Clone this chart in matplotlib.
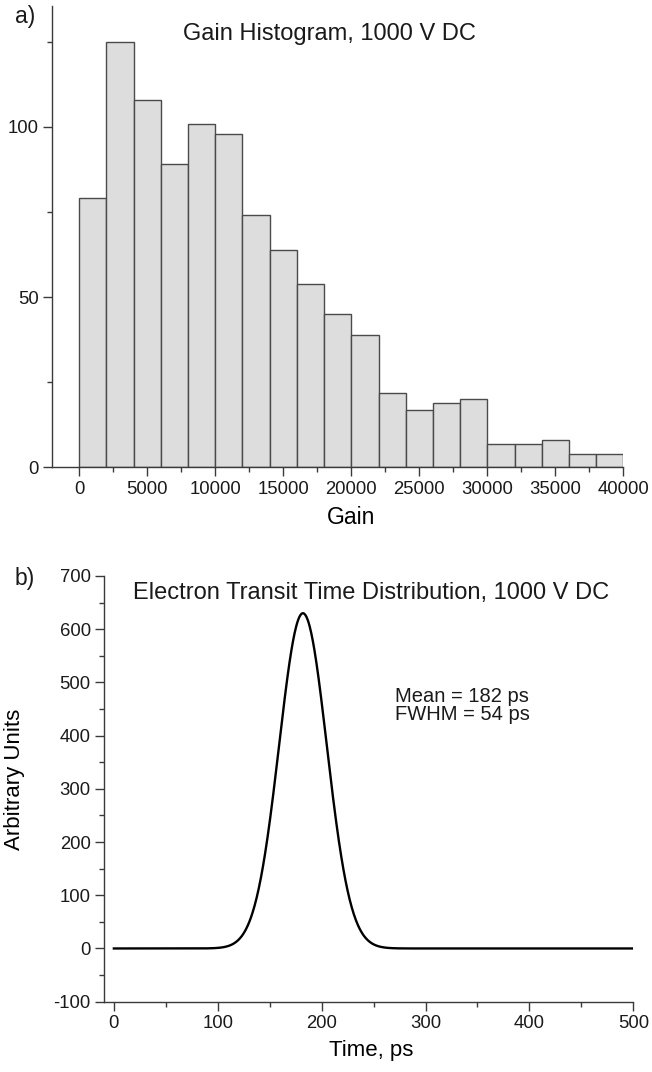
import numpy as np
import matplotlib

matplotlib.use("Agg")
import matplotlib.pyplot as plt
from matplotlib.ticker import MultipleLocator

plt.rcParams["font.family"] = ["Liberation Sans", "DejaVu Sans"]
plt.rcParams["text.color"] = "#1a1a1a"
plt.rcParams["axes.unicode_minus"] = False

# gain histogram, 1000 V DC (bin width 2000)
bin_edges = list(range(0, 40001, 2000))
gain_counts = [79, 125, 108, 89, 101, 98, 74, 64, 54, 45,
               39, 22, 17, 19, 20, 7, 7, 8, 4, 4]

# transit time distribution
transit_mean_ps = 182
transit_fwhm_ps = 54
transit_peak = 630
time_range_ps = (0, 500)

AX_COLOR = "#3a3a3a"
TICK_SIZE = 13.3


def style_axes(ax):
    for side in ("top", "right"):
        ax.spines[side].set_visible(False)
    for side in ("left", "bottom"):
        ax.spines[side].set_color(AX_COLOR)
        ax.spines[side].set_linewidth(1.0)
    ax.tick_params(which="major", direction="out", length=6.5, width=1.0,
                   color=AX_COLOR, labelsize=TICK_SIZE, labelcolor="#1a1a1a", pad=3)
    ax.tick_params(which="minor", direction="out", length=3.5, width=1.0,
                   color=AX_COLOR)


fig = plt.figure(figsize=(6.52, 10.72), dpi=100)

# a) gain histogram
ax1 = fig.add_axes([0.0798, 0.5639, 0.8763, 0.4305])
widths = np.diff(bin_edges)
ax1.bar(bin_edges[:-1], gain_counts, width=widths, align="edge",
        color="#dddddd", edgecolor="#4a4a4a", linewidth=1.0)
ax1.set_xlim(-2000, 40000)
ax1.set_ylim(0, 135.5)
ax1.xaxis.set_major_locator(MultipleLocator(5000))
ax1.xaxis.set_minor_locator(MultipleLocator(2500))
ax1.yaxis.set_major_locator(MultipleLocator(50))
ax1.yaxis.set_minor_locator(MultipleLocator(25))
style_axes(ax1)
ax1.set_xlabel("Gain", fontsize=16.5)
ax1.xaxis.set_label_coords(0.524, -0.083)
ax1.text(0.485, 0.940, "Gain Histogram, 1000 V DC", transform=ax1.transAxes,
         ha="center", va="center", fontsize=17)
fig.text(15 / 652, 1 - 17 / 1072, "a)", ha="left", va="center", fontsize=16.5)

# b) electron transit time distribution
ax2 = fig.add_axes([0.1595, 0.0656, 0.8118, 0.3971])
t = np.linspace(time_range_ps[0], time_range_ps[1], 1001)
sigma = transit_fwhm_ps / (2 * np.sqrt(2 * np.log(2)))
counts = transit_peak * np.exp(-0.5 * ((t - transit_mean_ps) / sigma) ** 2)
ax2.plot(t, counts, color="black", linewidth=1.7)
ax2.set_xlim(-9.5, 500)
ax2.set_ylim(-100, 700)
ax2.xaxis.set_major_locator(MultipleLocator(100))
ax2.xaxis.set_minor_locator(MultipleLocator(50))
ax2.yaxis.set_major_locator(MultipleLocator(100))
ax2.yaxis.set_minor_locator(MultipleLocator(50))
style_axes(ax2)
ax2.set_xlabel("Time, ps", fontsize=16)
ax2.xaxis.set_label_coords(0.505, -0.09)
ax2.set_ylabel("Arbitrary Units", fontsize=16)
ax2.yaxis.set_label_coords(-0.149, 0.522)
ax2.text(0.505, 0.960, "Electron Transit Time Distribution, 1000 V DC",
         transform=ax2.transAxes, ha="center", va="center", fontsize=17)
ax2.text(0.55, 0.74,
         f"Mean = {transit_mean_ps} ps\nFWHM = {transit_fwhm_ps} ps",
         transform=ax2.transAxes, ha="left", va="top", fontsize=14.5,
         linespacing=0.95)
fig.text(15 / 652, 1 - 578 / 1072, "b)", ha="left", va="center", fontsize=16.5)

fig.savefig("out.png", dpi=100)
